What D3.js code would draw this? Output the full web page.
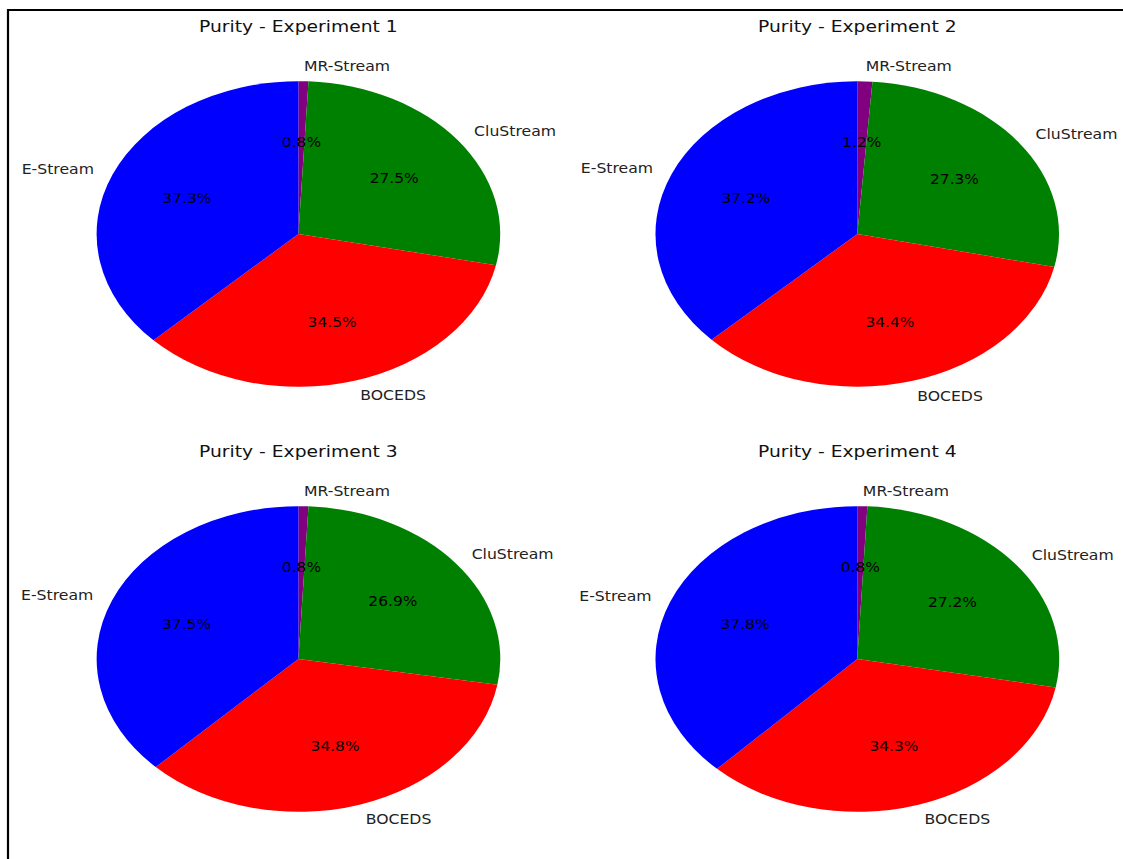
<!DOCTYPE html>
<html>
<head>
<meta charset="utf-8">
<script src="https://cdn.jsdelivr.net/npm/d3@7"></script>
<style>
  html, body { margin: 0; padding: 0; background: #fff; }
  svg { display: block; }
  text { font-family: "DejaVu Sans", sans-serif; }
</style>
</head>
<body>
<svg id="chart" width="1123" height="859"></svg>
<script>
// Methods, in clockwise order from 12 o'clock
const methods = ["MR-Stream", "CluStream", "BOCEDS", "E-Stream"];
const colors = ["#800080", "#008000", "#ff0000", "#0000ff"];

const titles = ["Purity - Experiment 1", "Purity - Experiment 2",
                "Purity - Experiment 3", "Purity - Experiment 4"];

// Purity share (%) per experiment, same order as methods
const exp1 = [0.8, 27.5, 34.5, 37.3];
const exp2 = [1.2, 27.3, 34.4, 37.2];
const exp3 = [0.8, 26.9, 34.8, 37.5];
const exp4 = [0.8, 27.2, 34.3, 37.8];
const experiments = [exp1, exp2, exp3, exp4];

const svg = d3.select("#chart");
const W = 1123, H = 859;

// outer frame (left and top edges)
svg.append("path")
  .attr("d", `M8,${H} L8,10 L${W},10`)
  .attr("fill", "none").attr("stroke", "#000").attr("stroke-width", 2.2);

const cols = [298.4, 857.3];
const rows = [234, 659];
const titleY = [32, 457];
const rx = 201.8, ry = 152.8;
const textStretch = 1.17;

const pie = d3.pie().sort(null).value(d => d.value);
const arc = d3.arc().innerRadius(0).outerRadius(1);

experiments.forEach((vals, i) => {
  const cx = cols[i % 2], cy = rows[Math.floor(i / 2)];
  const data = methods.map((m, j) => ({ name: m, value: vals[j], color: colors[j] }));
  const arcs = pie(data);

  const g = svg.append("g");

  g.append("text")
    .attr("transform", `translate(${cx},${titleY[Math.floor(i / 2)]}) scale(${textStretch},1)`)
    .attr("text-anchor", "middle")
    .attr("font-size", 16)
    .attr("fill", "#111")
    .text(titles[i]);

  g.append("g")
    .attr("transform", `translate(${cx},${cy}) scale(${rx},${ry})`)
    .selectAll("path")
    .data(arcs)
    .join("path")
    .attr("d", arc)
    .attr("fill", d => d.data.color);

  arcs.forEach(a => {
    const mid = (a.startAngle + a.endAngle) / 2;
    const sx = Math.sin(mid), sy = -Math.cos(mid);

    // method name outside the wedge
    const lx = cx + 1.1 * rx * sx, ly = cy + 1.1 * ry * sy;
    g.append("text")
      .attr("transform", `translate(${lx},${ly}) scale(${textStretch},1)`)
      .attr("text-anchor", sx >= 0 ? "start" : "end")
      .attr("dominant-baseline", "central")
      .attr("font-size", 13.4)
      .attr("fill", "#222")
      .text(a.data.name);

    // percentage inside the wedge
    const px = cx + 0.6 * rx * sx, py = cy + 0.6 * ry * sy;
    g.append("text")
      .attr("transform", `translate(${px},${py}) scale(${textStretch},1)`)
      .attr("text-anchor", "middle")
      .attr("dominant-baseline", "central")
      .attr("font-size", 13.2)
      .attr("fill", "#000")
      .text(a.data.value.toFixed(1) + "%");
  });
});
</script>
</body>
</html>
